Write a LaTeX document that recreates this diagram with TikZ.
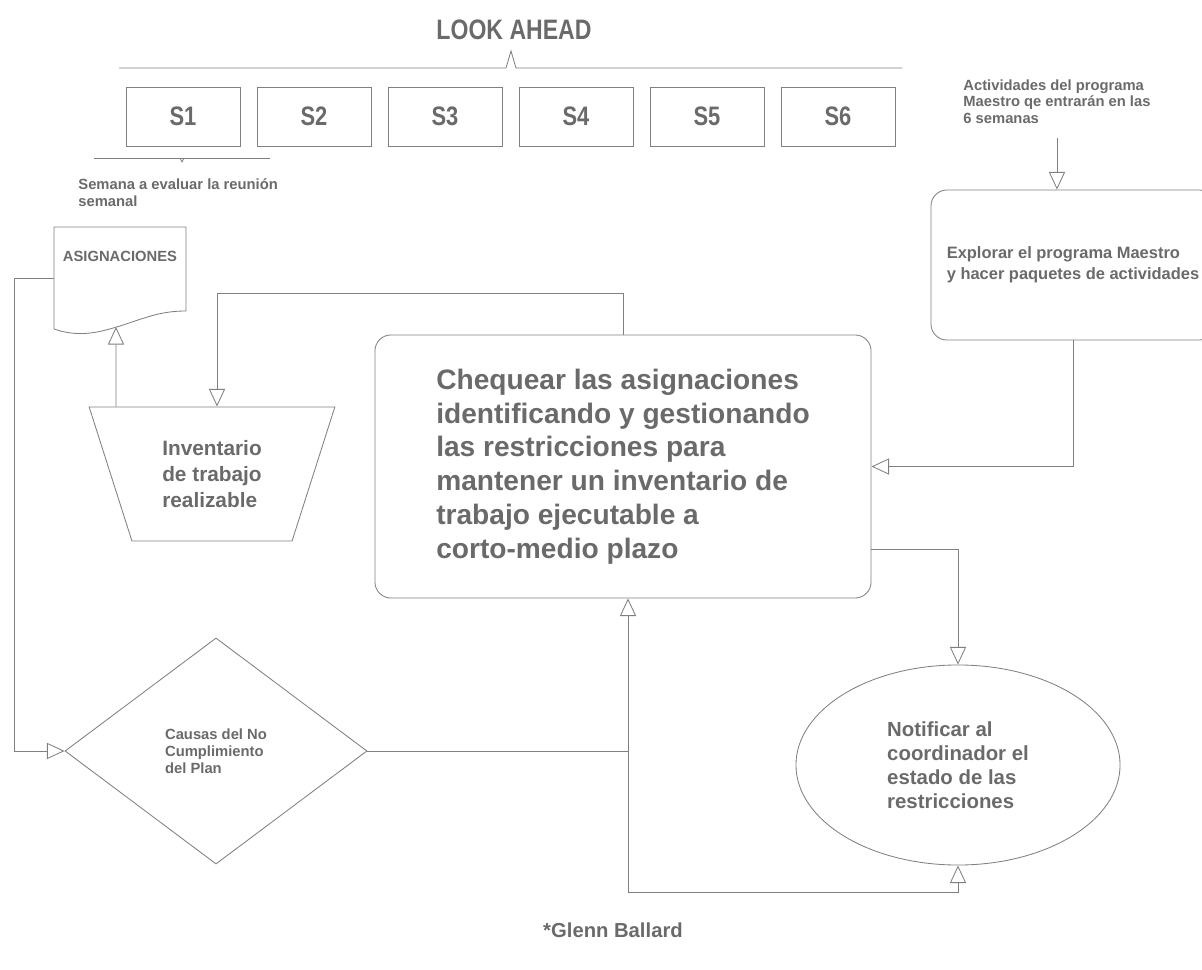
\documentclass[tikz,border=0pt]{standalone}
\usepackage{fontspec}
\setmainfont{Liberation Sans}
\newfontfamily\condfont[FakeStretch=0.82]{Liberation Sans}
\usetikzlibrary{arrows.meta,shapes.geometric}
\definecolor{linegray}{RGB}{128,128,128}
\definecolor{textgray}{RGB}{106,106,106}

\begin{document}
\begin{tikzpicture}[
    x=0.025cm, y=-0.025cm,
    line width=0.6pt, color=linegray, text=textgray,
    arr/.style={-{Triangle[open,length=12.5pt,width=11.5pt]}},
    sbox/.style={draw, minimum width=2.85cm, minimum height=1.475cm,
      font=\condfont\bfseries\fontsize{19}{22}\selectfont},
    small/.style={font=\bfseries\fontsize{10.5}{12}\selectfont, align=left, inner sep=0pt},
    roundbox/.style={draw, rounded corners=0.4cm, align=left}
  ]
  \useasboundingbox (0,0) rectangle (1202,970);

  \node[font=\condfont\bfseries\fontsize{20}{24}\selectfont] (look) at (514,30) {LOOK AHEAD};
  \draw (119,68) -- (506,68) -- (511,51) -- (516,68) -- (902,68);

  \node[sbox] (s1) at (183,116.5) {S1};
  \node[sbox] (s2) at (314,116.5) {S2};
  \node[sbox] (s3) at (445,116.5) {S3};
  \node[sbox] (s4) at (576,116.5) {S4};
  \node[sbox] (s5) at (707,116.5) {S5};
  \node[sbox] (s6) at (838,116.5) {S6};

  \draw (94,158) -- (270,158);
  \draw (180,158) -- (182,162) -- (184,158);
  \node[small, anchor=north west] (semana) at (78,178) {Semana a evaluar la reuni\'on\\semanal};

  \node[small, anchor=north west] (act) at (963,79) {Actividades del programa\\Maestro qe entrar\'an en las\\6 semanas};

  % documento
  \node[small] (asig) at (120,256) {ASIGNACIONES};
  \draw (54,329) -- (54,227) -- (186,227) -- (186,311)
    .. controls (160,311) and (145,318) .. (120,326)
    .. controls (100,332) and (80,338) .. (54,329);
  \coordinate (asigbot) at (116,327);
  \coordinate (asigleft) at (54,278);

  \node[draw, trapezium, shape border rotate=180, trapezium angle=69.16,
    trapezium stretches=true, minimum width=6.15cm, minimum height=3.35cm,
    align=left, font=\bfseries\fontsize{14.8}{18.4}\selectfont] (inv) at (212,474)
    {Inventario\\de trabajo\\realizable};

  \node[roundbox, minimum width=12.4cm, minimum height=6.575cm,
    font=\bfseries\fontsize{20}{24}\selectfont] (big) at (623,466.5)
    {Chequear las asignaciones\\identificando y gestionando\\las restricciones para\\mantener un inventario de\\trabajo ejecutable a\\corto-medio plazo};

  \node[roundbox, minimum width=7.1cm, minimum height=3.75cm,
    font=\bfseries\fontsize{11.7}{15}\selectfont] (explorar) at (1073,265)
    {Explorar el programa Maestro\\y hacer paquetes de actividades};

  \node[draw, diamond, minimum width=7.55cm, minimum height=5.65cm, inner sep=0pt,
    align=left, font=\bfseries\fontsize{10.5}{12}\selectfont] (causas) at (216,751)
    {Causas del No\\Cumplimiento\\del Plan};

  \node[draw, ellipse, minimum width=8.1cm, minimum height=5cm, align=left,
    font=\bfseries\fontsize{14.5}{17}\selectfont] (notif) at (958,765)
    {Notificar al\\coordinador el\\estado de las\\restricciones};

  \node[font=\bfseries\fontsize{14.4}{17}\selectfont] (glenn) at (613,930) {*Glenn Ballard};

  \draw[arr] ([yshift=-0.33cm]act.south) -- (act.south |- explorar.north);
  \draw[arr] (explorar.south) |- (big.east);
  \draw[arr] (big.north) -- ++(0,-41) -| ([xshift=0.125cm]inv.north);
  \draw[arr] ([xshift=-2.4cm]inv.north) -- (asigbot);
  \draw[arr] (asigleft) -- (14,278) |- (causas.west);
  \draw (causas.east) -- (628,751) coordinate (junc);
  \draw[arr] (junc) -- (junc |- big.south);
  \draw[arr] (junc) -- ++(0,141) -| (notif.south);
  \draw[arr] ([yshift=-2.075cm]big.east) -| (notif.north);
\end{tikzpicture}
\end{document}
